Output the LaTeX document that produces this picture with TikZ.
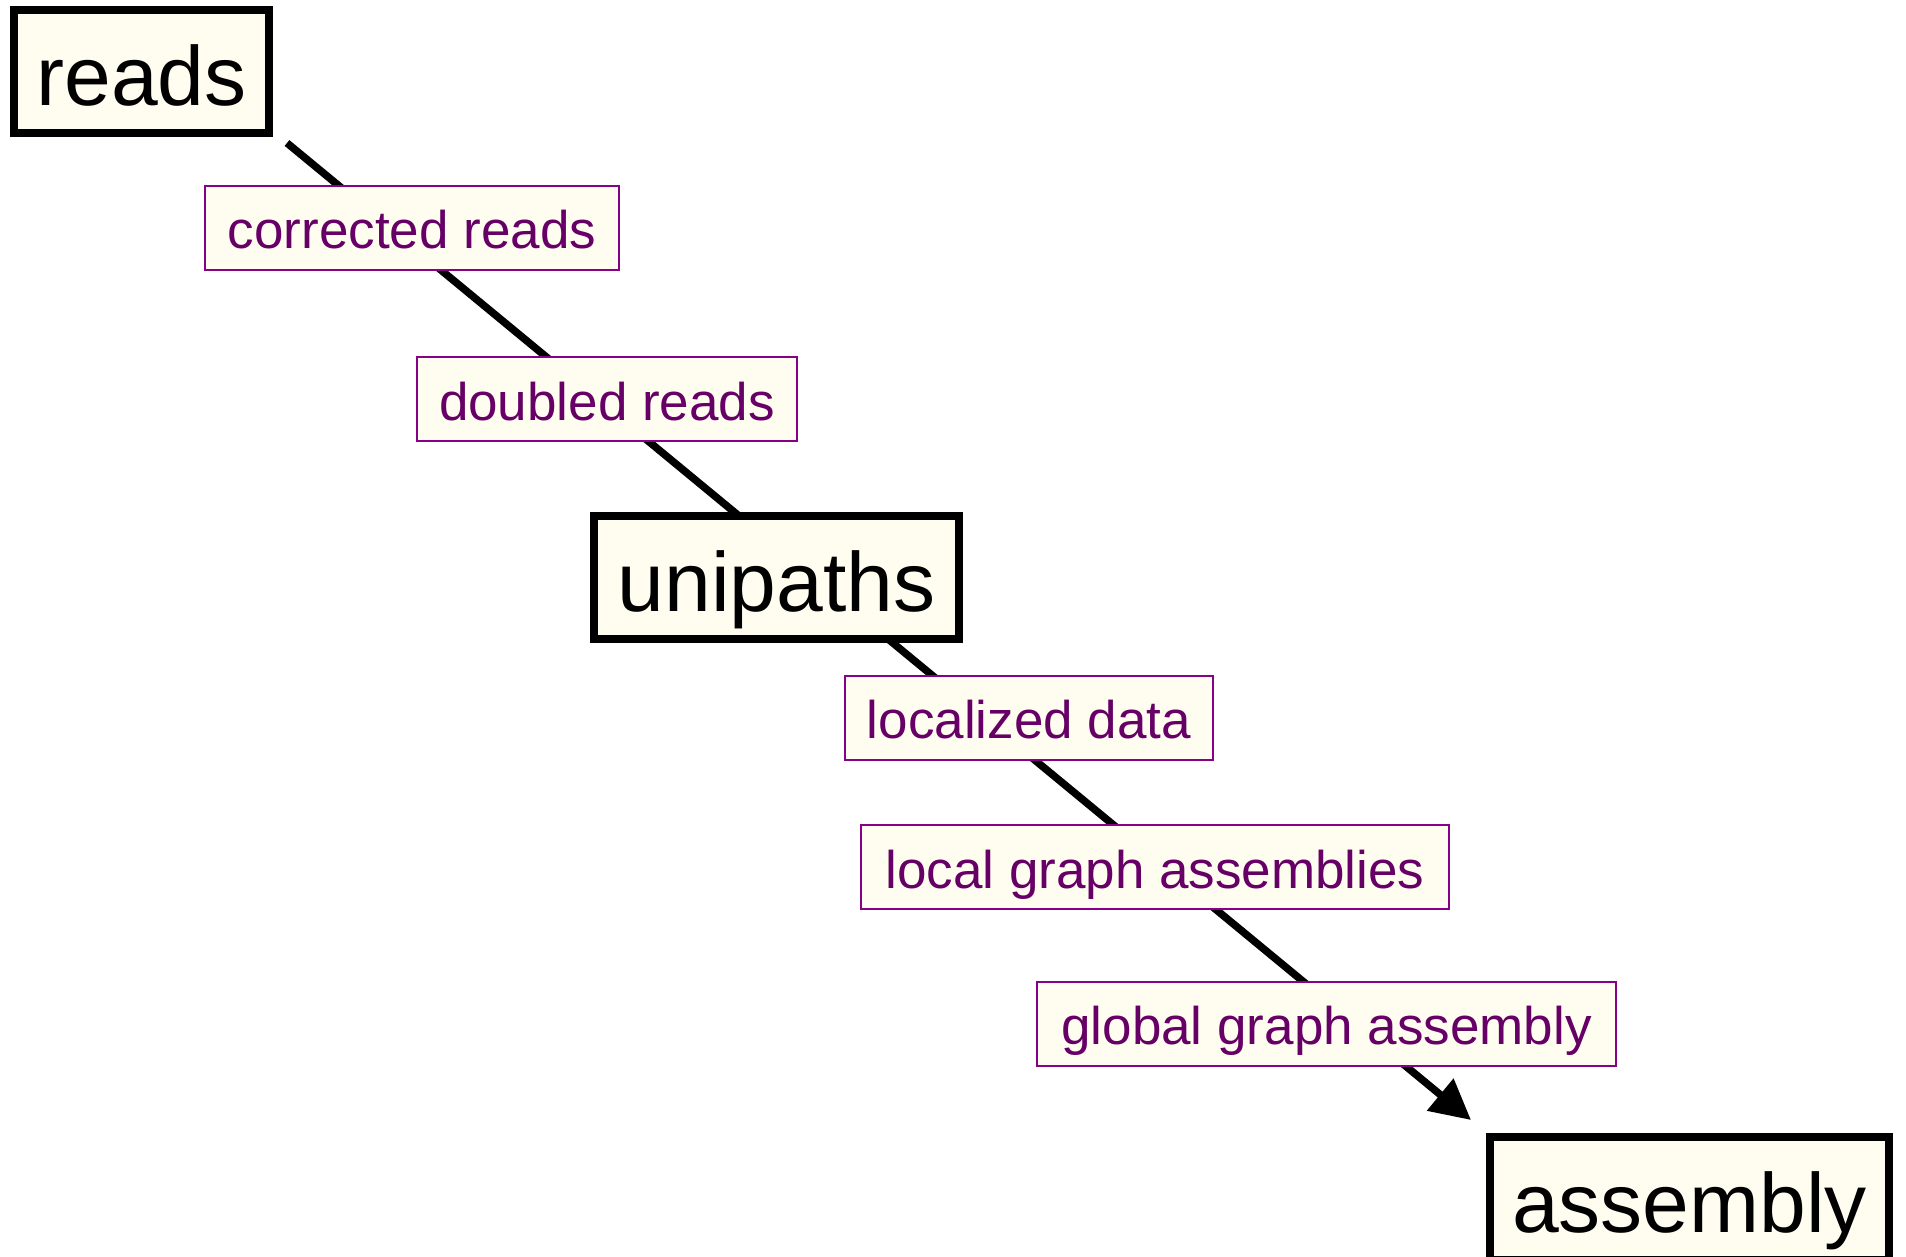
\documentclass[tikz,border=0pt]{standalone}
\usepackage{fontspec}
\setmainfont{Liberation Sans}
\usetikzlibrary{arrows.meta}
\definecolor{cream}{HTML}{FFFDF0}
\definecolor{lblpurple}{HTML}{660066}
\definecolor{lblborder}{HTML}{880088}
\begin{document}
\begin{tikzpicture}[x=0.5pt,y=-0.5pt,
  mainbox/.style={draw=black,line width=4pt,fill=cream,inner sep=0pt,
    text height=34pt,text depth=0pt,
    font=\fontsize{42}{48}\selectfont,text=black},
  lbl/.style={draw=lblborder,line width=1pt,fill=cream,inner sep=0pt,
    text height=21pt,text depth=0pt,
    minimum height=42pt,font=\fontsize{26.5}{30}\selectfont,text=lblpurple},
  flow/.style={line width=3.75pt,draw=black}]
\useasboundingbox (0,0) rectangle (1906,1257);
\clip (0,0) rectangle (1906,1257);
\coordinate (s) at (287,143);
\coordinate (e) at (1471,1120);
\draw[flow,-{Triangle[length=20pt,width=20pt]}] (s) -- (e);
\node[mainbox,minimum width=127.5pt,minimum height=61.5pt] (reads) at (141.5,71.5) {reads};
\node[mainbox,minimum width=182.5pt,minimum height=61.5pt] (unipaths) at (776.5,577.5) {unipaths};
\node[mainbox,minimum width=199.5pt,minimum height=61.5pt] (assembly) at (1689.5,1198.5) {assembly};
\node[lbl,minimum width=207pt] (l1) at (412,228) {corrected reads};
\node[lbl,minimum width=190pt] (l2) at (607,399) {doubled reads};
\node[lbl,minimum width=184pt] (l3) at (1029,717.5) {localized data};
\node[lbl,minimum width=294pt] (l4) at (1155,867) {local graph assemblies};
\node[lbl,minimum width=289.5pt] (l5) at (1326.5,1023.5) {global graph assembly};
\end{tikzpicture}
\end{document}
